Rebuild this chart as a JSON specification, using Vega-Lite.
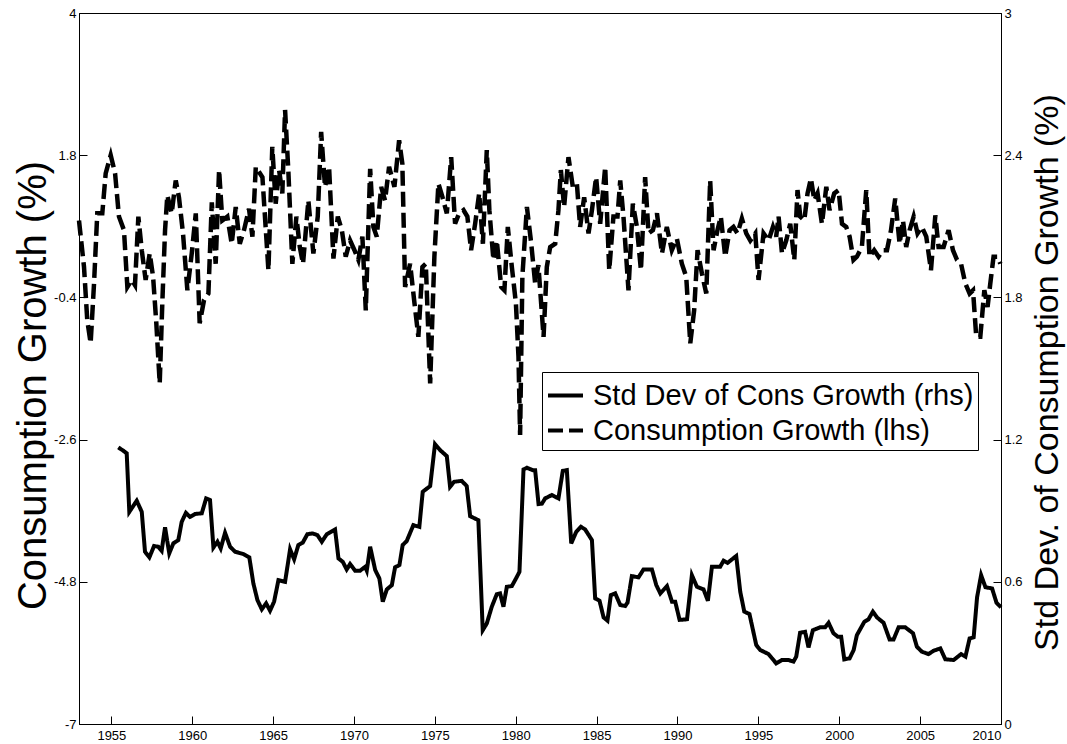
{
  "$schema": "https://vega.github.io/schema/vega-lite/v6.json",
  "width": 922,
  "height": 711,
  "autosize": {"type": "none"},
  "padding": {"left": 79, "top": 13, "right": 66, "bottom": 20},
  "background": "white",
  "config": {
    "view": {"stroke": "black", "strokeWidth": 1},
    "font": "Liberation Sans",
    "axis": {
      "grid": false,
      "domainColor": "black",
      "tickColor": "black",
      "labelColor": "black",
      "titleColor": "black",
      "labelFont": "Liberation Sans",
      "titleFont": "Liberation Sans",
      "titleFontWeight": "normal",
      "labelFontSize": 13,
      "tickSize": -8
    }
  },
  "datasets": {
    "growth": [
      {"t":1953.00,"v":0.79},{"t":1953.31,"v":0.07},{"t":1953.51,"v":-0.75},{"t":1953.72,"v":-1.11},{"t":1953.93,"v":-0.18},
      {"t":1954.13,"v":0.90},{"t":1954.44,"v":0.90},{"t":1954.65,"v":1.52},{"t":1954.96,"v":1.80},{"t":1955.23,"v":1.52},
      {"t":1955.47,"v":0.85},{"t":1955.78,"v":0.64},{"t":1955.99,"v":-0.24},{"t":1956.26,"v":-0.13},{"t":1956.46,"v":-0.21},
      {"t":1956.67,"v":0.85},{"t":1956.88,"v":0.33},{"t":1957.12,"v":-0.13},{"t":1957.37,"v":0.28},{"t":1957.58,"v":-0.08},
      {"t":1957.78,"v":-0.80},{"t":1957.99,"v":-1.73},{"t":1958.15,"v":-0.49},{"t":1958.32,"v":0.64},{"t":1958.46,"v":1.18},
      {"t":1958.73,"v":0.90},{"t":1958.98,"v":1.41},{"t":1959.18,"v":1.15},{"t":1959.43,"v":0.59},{"t":1959.70,"v":-0.29},
      {"t":1959.97,"v":0.28},{"t":1960.22,"v":0.90},{"t":1960.46,"v":-0.80},{"t":1960.73,"v":-0.44},{"t":1961.00,"v":-0.34},
      {"t":1961.21,"v":1.07},{"t":1961.45,"v":0.12},{"t":1961.66,"v":1.57},{"t":1961.86,"v":0.79},{"t":1962.17,"v":0.85},
      {"t":1962.44,"v":0.43},{"t":1962.69,"v":1.00},{"t":1962.94,"v":0.43},{"t":1963.20,"v":0.64},{"t":1963.51,"v":0.97},
      {"t":1963.72,"v":0.54},{"t":1963.93,"v":1.62},{"t":1964.34,"v":1.46},{"t":1964.71,"v":0.02},{"t":1964.95,"v":1.93},
      {"t":1965.16,"v":1.05},{"t":1965.37,"v":1.57},{"t":1965.57,"v":1.21},{"t":1965.74,"v":2.50},{"t":1965.94,"v":1.57},
      {"t":1966.19,"v":0.12},{"t":1966.44,"v":0.85},{"t":1966.65,"v":0.38},{"t":1966.85,"v":0.12},{"t":1967.18,"v":1.10},
      {"t":1967.49,"v":0.28},{"t":1967.76,"v":0.85},{"t":1967.97,"v":2.16},{"t":1968.21,"v":1.31},{"t":1968.46,"v":1.62},
      {"t":1968.73,"v":0.20},{"t":1969.00,"v":0.85},{"t":1969.25,"v":0.64},{"t":1969.49,"v":0.23},{"t":1969.76,"v":0.48},
      {"t":1970.03,"v":0.33},{"t":1970.27,"v":0.18},{"t":1970.52,"v":0.54},{"t":1970.73,"v":-0.60},{"t":1971.00,"v":1.59},
      {"t":1971.20,"v":0.69},{"t":1971.41,"v":0.54},{"t":1971.68,"v":1.31},{"t":1971.92,"v":1.10},{"t":1972.17,"v":1.62},
      {"t":1972.50,"v":1.31},{"t":1972.79,"v":2.03},{"t":1972.99,"v":1.67},{"t":1973.16,"v":-0.24},{"t":1973.47,"v":0.12},
      {"t":1973.74,"v":-0.49},{"t":1973.98,"v":-1.01},{"t":1974.23,"v":0.07},{"t":1974.44,"v":0.12},{"t":1974.71,"v":-1.73},
      {"t":1974.97,"v":0.23},{"t":1975.22,"v":1.36},{"t":1975.47,"v":1.15},{"t":1975.74,"v":0.90},{"t":1976.01,"v":1.77},
      {"t":1976.25,"v":0.74},{"t":1976.50,"v":0.90},{"t":1976.77,"v":0.95},{"t":1977.01,"v":0.85},{"t":1977.24,"v":0.33},
      {"t":1977.49,"v":0.74},{"t":1977.74,"v":1.21},{"t":1977.97,"v":0.43},{"t":1978.21,"v":1.88},{"t":1978.37,"v":0.95},
      {"t":1978.62,"v":0.18},{"t":1978.83,"v":0.48},{"t":1979.10,"v":-0.24},{"t":1979.30,"v":-0.29},{"t":1979.51,"v":0.69},
      {"t":1979.76,"v":0.07},{"t":1980.01,"v":-0.49},{"t":1980.17,"v":-1.32},{"t":1980.27,"v":-2.53},{"t":1980.41,"v":-0.08},
      {"t":1980.69,"v":1.00},{"t":1980.95,"v":0.45},{"t":1981.20,"v":-0.18},{"t":1981.40,"v":0.10},{"t":1981.72,"v":-1.01},
      {"t":1981.92,"v":0.07},{"t":1982.13,"v":0.38},{"t":1982.44,"v":0.43},{"t":1982.64,"v":0.95},{"t":1982.79,"v":1.57},
      {"t":1982.99,"v":1.00},{"t":1983.26,"v":1.77},{"t":1983.53,"v":1.31},{"t":1983.78,"v":1.36},{"t":1983.98,"v":0.69},
      {"t":1984.23,"v":1.15},{"t":1984.50,"v":0.59},{"t":1984.71,"v":0.95},{"t":1984.97,"v":1.46},{"t":1985.22,"v":0.74},
      {"t":1985.53,"v":1.62},{"t":1985.78,"v":0.02},{"t":1986.04,"v":0.85},{"t":1986.29,"v":0.85},{"t":1986.46,"v":1.41},
      {"t":1986.66,"v":0.85},{"t":1986.97,"v":-0.29},{"t":1987.24,"v":1.05},{"t":1987.49,"v":0.69},{"t":1987.74,"v":0.02},
      {"t":1988.00,"v":1.46},{"t":1988.21,"v":0.59},{"t":1988.48,"v":0.64},{"t":1988.73,"v":0.90},{"t":1989.04,"v":0.28},
      {"t":1989.34,"v":0.69},{"t":1989.65,"v":0.33},{"t":1989.96,"v":0.51},{"t":1990.27,"v":0.12},{"t":1990.54,"v":-0.08},
      {"t":1990.79,"v":-1.11},{"t":1991.03,"v":-0.60},{"t":1991.24,"v":0.33},{"t":1991.51,"v":-0.03},{"t":1991.78,"v":-0.34},
      {"t":1992.02,"v":1.41},{"t":1992.23,"v":0.33},{"t":1992.47,"v":0.64},{"t":1992.68,"v":0.85},{"t":1992.95,"v":0.23},
      {"t":1993.22,"v":0.64},{"t":1993.46,"v":0.69},{"t":1993.71,"v":0.59},{"t":1993.98,"v":0.82},{"t":1994.25,"v":0.59},
      {"t":1994.50,"v":0.48},{"t":1994.81,"v":0.59},{"t":1995.01,"v":-0.13},{"t":1995.32,"v":0.59},{"t":1995.63,"v":0.48},
      {"t":1995.90,"v":0.69},{"t":1996.10,"v":0.54},{"t":1996.25,"v":0.85},{"t":1996.46,"v":0.28},{"t":1996.72,"v":0.48},
      {"t":1996.97,"v":0.74},{"t":1997.22,"v":0.18},{"t":1997.42,"v":1.26},{"t":1997.59,"v":0.85},{"t":1997.84,"v":0.79},
      {"t":1998.04,"v":1.21},{"t":1998.25,"v":1.44},{"t":1998.46,"v":1.10},{"t":1998.66,"v":1.21},{"t":1998.93,"v":0.74},
      {"t":1999.20,"v":1.31},{"t":1999.40,"v":0.95},{"t":1999.69,"v":1.21},{"t":1999.96,"v":1.26},{"t":2000.17,"v":0.74},
      {"t":2000.43,"v":0.69},{"t":2000.64,"v":0.54},{"t":2000.88,"v":0.18},{"t":2001.09,"v":0.23},{"t":2001.40,"v":0.38},
      {"t":2001.67,"v":1.26},{"t":2001.87,"v":0.23},{"t":2002.16,"v":0.33},{"t":2002.43,"v":0.23},{"t":2002.70,"v":0.33},
      {"t":2002.95,"v":0.33},{"t":2003.20,"v":0.64},{"t":2003.46,"v":1.13},{"t":2003.73,"v":0.43},{"t":2003.94,"v":0.79},
      {"t":2004.14,"v":0.38},{"t":2004.35,"v":0.64},{"t":2004.60,"v":0.85},{"t":2004.84,"v":0.59},{"t":2005.11,"v":0.69},
      {"t":2005.38,"v":0.54},{"t":2005.67,"v":0.02},{"t":2005.94,"v":0.87},{"t":2006.14,"v":0.38},{"t":2006.45,"v":0.38},
      {"t":2006.76,"v":0.64},{"t":2007.03,"v":0.33},{"t":2007.28,"v":0.18},{"t":2007.53,"v":0.12},{"t":2007.79,"v":-0.18},
      {"t":2008.06,"v":-0.34},{"t":2008.27,"v":-0.29},{"t":2008.47,"v":-1.01},{"t":2008.72,"v":-1.01},{"t":2008.97,"v":-0.29},
      {"t":2009.17,"v":-0.55},{"t":2009.34,"v":-0.18},{"t":2009.54,"v":0.23},{"t":2009.79,"v":0.23},{"t":2009.96,"v":0.12}
    ],
    "sd": [
      {"t":1955.43,"v":1.167},{"t":1955.74,"v":1.153},{"t":1955.95,"v":1.142},{"t":1956.11,"v":0.895},{"t":1956.57,"v":0.942},
      {"t":1956.88,"v":0.895},{"t":1957.08,"v":0.727},{"t":1957.35,"v":0.703},{"t":1957.64,"v":0.751},{"t":1957.90,"v":0.748},
      {"t":1958.11,"v":0.731},{"t":1958.32,"v":0.830},{"t":1958.58,"v":0.720},{"t":1958.83,"v":0.762},{"t":1959.14,"v":0.776},
      {"t":1959.35,"v":0.853},{"t":1959.61,"v":0.891},{"t":1959.86,"v":0.874},{"t":1960.17,"v":0.886},{"t":1960.59,"v":0.889},
      {"t":1960.86,"v":0.952},{"t":1961.10,"v":0.945},{"t":1961.31,"v":0.745},{"t":1961.56,"v":0.769},{"t":1961.76,"v":0.741},
      {"t":1962.03,"v":0.807},{"t":1962.34,"v":0.748},{"t":1962.65,"v":0.727},{"t":1963.16,"v":0.717},{"t":1963.53,"v":0.703},
      {"t":1963.78,"v":0.593},{"t":1964.03,"v":0.523},{"t":1964.30,"v":0.484},{"t":1964.57,"v":0.509},{"t":1964.81,"v":0.478},
      {"t":1965.06,"v":0.516},{"t":1965.33,"v":0.607},{"t":1965.74,"v":0.600},{"t":1966.05,"v":0.737},{"t":1966.30,"v":0.695},
      {"t":1966.56,"v":0.755},{"t":1966.83,"v":0.765},{"t":1967.12,"v":0.801},{"t":1967.45,"v":0.804},{"t":1967.74,"v":0.797},
      {"t":1968.01,"v":0.769},{"t":1968.32,"v":0.801},{"t":1968.83,"v":0.821},{"t":1969.04,"v":0.699},{"t":1969.31,"v":0.684},
      {"t":1969.55,"v":0.652},{"t":1969.76,"v":0.675},{"t":1970.07,"v":0.647},{"t":1970.38,"v":0.647},{"t":1970.69,"v":0.663},
      {"t":1970.79,"v":0.647},{"t":1971.00,"v":0.748},{"t":1971.31,"v":0.650},{"t":1971.57,"v":0.614},{"t":1971.78,"v":0.516},
      {"t":1972.03,"v":0.568},{"t":1972.34,"v":0.586},{"t":1972.54,"v":0.661},{"t":1972.81,"v":0.671},{"t":1973.01,"v":0.755},
      {"t":1973.26,"v":0.772},{"t":1973.67,"v":0.839},{"t":1974.04,"v":0.832},{"t":1974.25,"v":0.980},{"t":1974.71,"v":1.004},
      {"t":1975.01,"v":1.181},{"t":1975.32,"v":1.156},{"t":1975.74,"v":1.130},{"t":1975.94,"v":1.001},{"t":1976.19,"v":1.022},
      {"t":1976.66,"v":1.026},{"t":1976.97,"v":1.004},{"t":1977.18,"v":0.877},{"t":1977.69,"v":0.860},{"t":1977.96,"v":0.396},
      {"t":1978.21,"v":0.424},{"t":1978.52,"v":0.495},{"t":1978.83,"v":0.548},{"t":1979.03,"v":0.551},{"t":1979.24,"v":0.495},
      {"t":1979.45,"v":0.579},{"t":1979.76,"v":0.582},{"t":1980.07,"v":0.621},{"t":1980.23,"v":0.642},{"t":1980.48,"v":1.074},
      {"t":1980.69,"v":1.081},{"t":1981.06,"v":1.071},{"t":1981.20,"v":1.071},{"t":1981.41,"v":0.928},{"t":1981.62,"v":0.930},
      {"t":1981.82,"v":0.952},{"t":1982.23,"v":0.966},{"t":1982.64,"v":0.952},{"t":1982.91,"v":1.068},{"t":1983.16,"v":1.071},
      {"t":1983.43,"v":0.762},{"t":1983.74,"v":0.811},{"t":1984.03,"v":0.832},{"t":1984.29,"v":0.821},{"t":1984.71,"v":0.776},
      {"t":1984.91,"v":0.530},{"t":1985.18,"v":0.520},{"t":1985.43,"v":0.450},{"t":1985.67,"v":0.436},{"t":1985.88,"v":0.544},
      {"t":1986.15,"v":0.551},{"t":1986.46,"v":0.502},{"t":1986.77,"v":0.498},{"t":1986.91,"v":0.512},{"t":1987.18,"v":0.624},
      {"t":1987.59,"v":0.619},{"t":1987.90,"v":0.652},{"t":1988.42,"v":0.652},{"t":1988.69,"v":0.586},{"t":1988.94,"v":0.551},
      {"t":1989.35,"v":0.582},{"t":1989.66,"v":0.516},{"t":1989.86,"v":0.516},{"t":1990.13,"v":0.439},{"t":1990.59,"v":0.442},
      {"t":1990.89,"v":0.628},{"t":1991.20,"v":0.579},{"t":1991.61,"v":0.568},{"t":1991.88,"v":0.520},{"t":1992.13,"v":0.664},
      {"t":1992.64,"v":0.664},{"t":1992.85,"v":0.689},{"t":1993.10,"v":0.680},{"t":1993.63,"v":0.709},{"t":1993.88,"v":0.558},
      {"t":1994.13,"v":0.474},{"t":1994.45,"v":0.464},{"t":1994.87,"v":0.333},{"t":1995.12,"v":0.312},{"t":1995.63,"v":0.295},
      {"t":1996.10,"v":0.256},{"t":1996.45,"v":0.270},{"t":1996.86,"v":0.270},{"t":1997.17,"v":0.263},{"t":1997.34,"v":0.284},
      {"t":1997.58,"v":0.385},{"t":1997.89,"v":0.389},{"t":1998.10,"v":0.323},{"t":1998.37,"v":0.396},{"t":1998.82,"v":0.408},
      {"t":1999.13,"v":0.408},{"t":1999.34,"v":0.427},{"t":1999.64,"v":0.383},{"t":1999.92,"v":0.368},{"t":2000.12,"v":0.368},
      {"t":2000.31,"v":0.273},{"t":2000.64,"v":0.277},{"t":2000.89,"v":0.312},{"t":2001.09,"v":0.375},{"t":2001.55,"v":0.431},
      {"t":2001.81,"v":0.442},{"t":2002.08,"v":0.474},{"t":2002.33,"v":0.450},{"t":2002.74,"v":0.427},{"t":2003.11,"v":0.357},
      {"t":2003.36,"v":0.357},{"t":2003.67,"v":0.408},{"t":2004.08,"v":0.408},{"t":2004.56,"v":0.383},{"t":2004.80,"v":0.326},
      {"t":2005.11,"v":0.305},{"t":2005.52,"v":0.295},{"t":2005.83,"v":0.309},{"t":2006.25,"v":0.319},{"t":2006.56,"v":0.273},
      {"t":2007.07,"v":0.270},{"t":2007.53,"v":0.295},{"t":2007.80,"v":0.284},{"t":2008.06,"v":0.361},{"t":2008.31,"v":0.366},
      {"t":2008.52,"v":0.534},{"t":2008.77,"v":0.628},{"t":2009.04,"v":0.577},{"t":2009.45,"v":0.572},{"t":2009.72,"v":0.512},
      {"t":2010.00,"v":0.492}
    ]
  },
  "encoding": {
    "x": {
      "field": "t",
      "type": "quantitative",
      "scale": {"domain": [1953, 2010], "nice": false, "zero": false},
      "axis": {
        "values": [1955, 1960, 1965, 1970, 1975, 1980, 1985, 1990, 1995, 2000, 2005, 2010],
        "format": "d",
        "title": null,
        "labelPadding": 13
      }
    }
  },
  "layer": [
    {
      "data": {"name": "growth"},
      "mark": {"type": "line", "strokeWidth": 4.5, "color": "black"},
      "encoding": {
        "y": {
          "field": "v",
          "type": "quantitative",
          "scale": {"domain": [-7, 4], "nice": false, "zero": false},
          "axis": {
            "orient": "left",
            "values": [-7, -4.8, -2.6, -0.4, 1.8, 4],
            "labelExpr": "'' + datum.value",
            "labelPadding": 11,
            "title": "Consumption Growth (%)",
            "titleFontSize": 40,
            "titleAngle": 270,
            "titleAlign": "center",
            "titleBaseline": "alphabetic",
            "titleX": -34,
            "titleY": 372
          }
        },
        "strokeDash": {
          "datum": "Consumption Growth (lhs)",
          "type": "nominal",
          "scale": {
            "domain": ["Std Dev of Cons Growth (rhs)", "Consumption Growth (lhs)"],
            "range": [[1, 0], [15, 6]]
          },
          "legend": {
            "orient": "none",
            "legendX": 463,
            "legendY": 359,
            "title": null,
            "symbolType": "stroke",
            "symbolSize": 1225,
            "symbolStrokeWidth": 4,
            "symbolStrokeColor": "black",
            "labelFontSize": 29,
            "labelFont": "Liberation Sans",
            "labelColor": "black",
            "labelLimit": 0,
            "labelOffset": 8,
            "strokeColor": "black",
            "fillColor": "white",
            "padding": 4,
            "rowPadding": -2
          }
        }
      }
    },
    {
      "data": {"name": "sd"},
      "mark": {"type": "line", "strokeWidth": 4, "color": "black"},
      "encoding": {
        "y": {
          "field": "v",
          "type": "quantitative",
          "scale": {"domain": [0, 3], "nice": false, "zero": false},
          "axis": {
            "orient": "right",
            "values": [0, 0.6, 1.2, 1.8, 2.4, 3],
            "labelExpr": "'' + datum.value",
            "labelPadding": 11,
            "title": "Std Dev. of Consumption Growth (%)",
            "titleFontSize": 34,
            "titleAngle": 270,
            "titleAlign": "center",
            "titleBaseline": "alphabetic",
            "titleX": 56,
            "titleY": 359
          }
        },
        "strokeDash": {"datum": "Std Dev of Cons Growth (rhs)", "type": "nominal"}
      }
    }
  ],
  "resolve": {"scale": {"y": "independent"}}
}
